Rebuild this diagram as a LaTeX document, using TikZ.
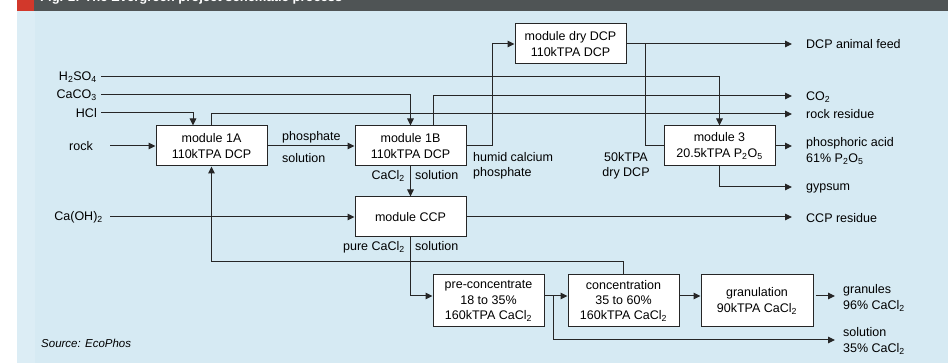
\documentclass[tikz,border=0pt]{standalone}
\usepackage{fontspec}
\setmainfont{Liberation Sans}
\usetikzlibrary{arrows.meta}
\definecolor{bgblue}{HTML}{D6EAF3}
\definecolor{bglight}{HTML}{DCEDF5}
\definecolor{band}{HTML}{4F5455}
\definecolor{redsq}{HTML}{D2382B}
\definecolor{ln}{HTML}{262626}
\newcommand\sbs[1]{\textsubscript{#1}}
\begin{document}
\begin{tikzpicture}[x=1pt,y=-1pt,
  font=\fontsize{12.5}{15.3}\selectfont,
  box/.style={draw=ln, line width=1pt, fill=white, minimum width=111pt,
    minimum height=40pt, align=center, inner sep=0pt},
  flow/.style={draw=ln, line width=1pt, -{Triangle[length=7pt,width=6.5pt]}},
  plain/.style={draw=ln, line width=1pt},
  lbl/.style={inner sep=0pt, align=left},
  inlbl/.style={inner ysep=0pt, inner xsep=4pt, anchor=east},
  outlbl/.style={inner ysep=0pt, inner xsep=0pt, anchor=west, align=left, text depth=0pt}]
% background
\useasboundingbox (0,0) rectangle (948,363);
\fill[white] (0,0) rectangle (948,363);
\fill[bgblue] (17,11) rectangle (948,363);
\fill[bglight] (17,11) rectangle (35,363);
\fill[band] (34,0) rectangle (948,11);
\fill[redsq] (17,0) rectangle (34,11);
\begin{scope}
\clip (34,0) rectangle (948,11);
\node[anchor=base west, inner sep=0pt, text=white, font=\fontsize{13}{15}\selectfont\bfseries] (title) at (40,1.5) {Fig. 2: The Evergreen project schematic process};
\end{scope}
% boxes
\node[box] (m1a) at (211.5,146) {module 1A\\110kTPA DCP};
\node[box] (m1b) at (410.5,146) {module 1B\\110kTPA DCP};
\node[box] (ccp) at (410.5,217) {module CCP};
\node[box] (dry) at (570.5,44) {module dry DCP\\110kTPA DCP};
\node[box] (m3) at (719.5,146) {module 3\\20.5kTPA P\sbs2O\sbs5};
\node[box, minimum height=52pt] (pre) at (488.5,301) {pre-concentrate\\18 to 35\%\\160kTPA CaCl\sbs2};
\node[box, minimum height=52pt] (con) at (623.5,301) {concentration\\35 to 60\%\\160kTPA CaCl\sbs2};
\node[box, minimum height=52pt, minimum width=112pt] (gra) at (757,301) {granulation\\90kTPA CaCl\sbs2};
% input labels
\node[inlbl] (h2so4) at (101,77) {H\sbs2SO\sbs4};
\node[inlbl] (caco3) at (101,95) {CaCO\sbs3};
\node[inlbl] (hcl) at (101,113) {HCl};
\node[inlbl, inner xsep=17pt] (rock) at (110,146) {rock};
\node[inlbl, inner xsep=7pt] (caoh) at (110,217) {Ca(OH)\sbs2};
% output labels
\node[outlbl, inner xsep=14pt] (feed) at (792,44) {DCP animal feed};
\node[outlbl, inner xsep=14pt] (co2) at (792,96) {CO\sbs2};
\node[outlbl, inner xsep=14pt] (resid) at (792,114) {rock residue};
\node[outlbl, inner xsep=14pt] (acid) at (792,150) {phosphoric acid\\61\% P\sbs2O\sbs5};
\node[outlbl, inner xsep=14pt] (gyp) at (792,187) {gypsum};
\node[outlbl, inner xsep=14pt] (ccpres) at (792,218) {CCP residue};
\node[outlbl, inner xsep=8pt] (gran) at (835,297) {granules\\96\% CaCl\sbs2};
\node[outlbl, inner xsep=8pt] (sol) at (835,340) {solution\\35\% CaCl\sbs2};
% other labels
\node[lbl, anchor=west] (phos1) at (282,137) {phosphate};
\node[lbl, anchor=west] (phos2) at (282,158) {solution};
\node[lbl, anchor=west] (humid) at (473,166) {humid calcium\\phosphate};
\node[lbl, align=center] (drydcp) at (626,166) {50kTPA\\dry DCP};
\node[lbl, anchor=east] (cacl1) at (405,176) {CaCl\sbs2};
\node[lbl, anchor=west] (sol1) at (415,175) {solution};
\node[lbl, anchor=east] (cacl2) at (405,247) {pure CaCl\sbs2};
\node[lbl, anchor=west] (sol2) at (415,246) {solution};
\node[lbl, anchor=west, font=\fontsize{11.5}{13}\selectfont\itshape] (src) at (41,343) {Source: EcoPhos};
% connectors
\draw[flow] (h2so4.east) -| (m3.north);
\draw[flow] (caco3.east) -| (m1b.north);
\draw[flow] (hcl.east) -| ([xshift=-18.5pt]m1a.north);
\draw[flow] (rock.east) -- (m1a.west);
\draw[flow] (caoh.east) -- (ccp.west);
\draw[flow] (m1a.north) |- (resid.west);
\draw[flow] ([xshift=22.5pt]m1b.north) |- (co2.west);
\draw[flow] (m1a.east) -- (m1b.west);
\draw[flow] (m1b.east) -- ++(26,0) |- (dry.west);
\draw[flow] (dry.east) -- (dry.east -| feed.west);
\draw[plain] ([xshift=19pt]dry.east) |- (m3.west);
\draw[flow] (m3.east) -- (m3.east -| acid.west);
\draw[flow] (m3.south) |- (gyp.west);
\draw[flow] (m1b.south) -- (ccp.north);
\draw[flow] (ccp.east) -- (ccp.east -| ccpres.west);
\draw[flow] (ccp.south) |- ([yshift=5pt]pre.west);
\draw[flow] ([yshift=5pt]pre.east) -- ([yshift=5pt]con.west);
\draw[flow] ([yshift=5pt,xshift=9pt]pre.east) |- (sol.west);
\draw[flow] ([yshift=5pt]con.east) -- ([yshift=5pt]gra.west);
\draw[flow] ([yshift=5pt,xshift=2pt]gra.east) -- ([yshift=5pt]gra.east -| gran.west);
\draw[flow] (con.north) -- ++(0,-13) -| (m1a.south);
\end{tikzpicture}
\end{document}
